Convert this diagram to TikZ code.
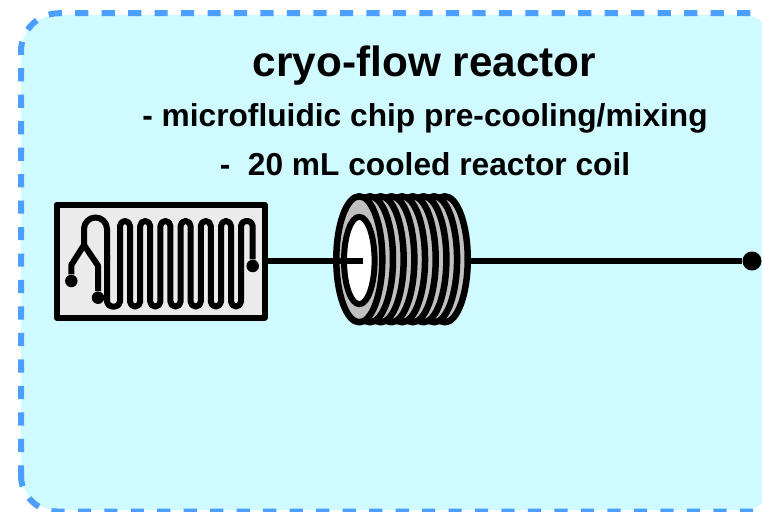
\documentclass[tikz,border=0pt]{standalone}
\usepackage{fontspec}
\setmainfont{Liberation Sans}
\usepackage{xcolor}
\usetikzlibrary{positioning,calc}

\definecolor{reactorfill}{HTML}{CFFAFF}
\definecolor{reactordash}{HTML}{4D9FFF}
\definecolor{chipfill}{HTML}{EBEBEB}
\definecolor{coilfill}{HTML}{C0C0C0}

\begin{document}
\begin{tikzpicture}[x=1pt,y=-1pt,line join=round,node distance=1.8cm,semithick]
	\tikzstyle{chipbox}=[rectangle,fill=chipfill,draw=black,line width=6pt,minimum width=208pt,minimum height=113pt,inner sep=0pt]
	\tikzstyle{chipport}=[circle,fill=black,minimum size=12.5pt,inner sep=0pt]
	\tikzstyle{outport}=[circle,fill=black,minimum size=19pt,inner sep=0pt]
	\tikzstyle{channel}=[draw=black,line width=6pt]
	\tikzstyle{tube}=[draw=black,line width=6pt]
	\tikzstyle{turn}=[fill=coilfill,draw=black,line width=6.5pt]
	\tikzstyle{border}=[draw=reactordash,line width=6pt,dash pattern=on 13.2pt off 13.28pt]
	
	\clip (0,0) rectangle (762,511);
	
	\fill[reactorfill] [rounded corners=37pt] (400,15) -- (21,15) -- (21,510) -- (400,510) [rounded corners=25pt] -- (770,510) -- (770,15) -- cycle;
	
	\draw[border,rounded corners=38pt] (750.3,13.2) -- (21,13.2) -- (21,479);
	
	\draw[border,rounded corners=36pt] (753,511.5) -- (21,511.5) -- (21,473);
	
	\node[anchor=base,font=\bfseries\fontsize{42.3}{46}\selectfont] (T1) at (424.5,77) {cryo-flow reactor};
	
	\node[anchor=base,font=\bfseries\fontsize{31.7}{36}\selectfont] (T2) at (425,126) {- microfluidic chip pre-cooling/mixing};
	
	\node[anchor=base,font=\bfseries\fontsize{31.7}{36}\selectfont] (T3) at (425,175) {-\ \ 20 mL cooled reactor coil};
	
	\node[chipbox] (chip) at (160.5,261) {};
	
	\node[chipport] (P1) at (71.3,281) {};
	
	\node[chipport] (P2) at (98,297.7) {};
	
	\node[chipport] (P3) at (252.7,266) {};
	
	\coordinate (Y) at (84,245);
	
	\draw[channel] (P1) -- (71.3,265) -- (Y) -- (98,265.7) -- (P2);
	
	\draw[channel,rounded corners=11.5pt] (Y) -- (84,217.5) -- (107,217.5) -- (107,260);
	
	\draw[channel,rounded corners=5pt] (107,255) -- (107,306.5)
	\foreach \x in {120,140.2,160.4,180.6,200.8,221} { -- (\x,306.5) -- (\x,221) -- (\x+10,221) -- (\x+10,306.5) }
	-- (241,306.5) -- (241,221) -- (252.7,221) -- (P3);
	
	% coil, back turn first
	\foreach \i in {8,7,...,0}
	\draw[turn] (359.3+\i*10.68,259.3) ellipse [x radius=23,y radius=63];
	
	\draw[tube,fill=white] (359.3,260.5) ellipse [x radius=15.3,y radius=43.7];
	
	\node[minimum width=138pt,minimum height=132pt,inner sep=0pt,outer sep=0pt] (coil) at (402,261) {};
	
	\coordinate (coilin) at (362.7,261);
	
	\node[outport] (outlet) at (752,261) {};
	
	\draw[tube] (chip) -- (coilin);
	
	\draw[tube] (coil) -- (outlet);
	
\end{tikzpicture}
\end{document}
